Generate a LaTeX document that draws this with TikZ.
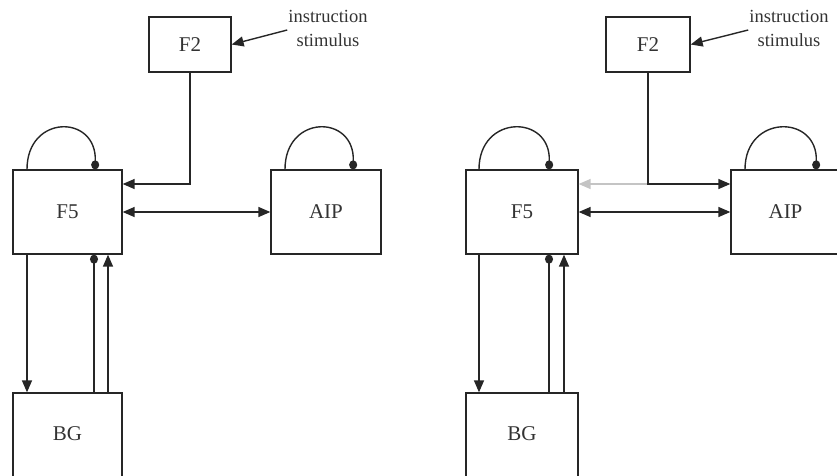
\documentclass[tikz,border=0pt]{standalone}
\usepackage{fontspec}
\setmainfont{Liberation Serif}
\usetikzlibrary{arrows.meta}
\definecolor{ink}{HTML}{262626}
\definecolor{txt}{HTML}{333333}
\definecolor{faint}{HTML}{C4C4C4}
\tikzset{
  area/.style={draw=ink, line width=1.3pt, inner sep=0pt, font=\fontsize{21}{24}\selectfont, text=txt},
  wire/.style={draw=ink, line width=1.4pt},
  tri/.tip={Triangle[length=12pt,width=10pt]},
  excite/.style={wire, -tri},
  both/.style={wire, tri-tri},
  inhib/.style={wire, -{Circle[length=9pt,width=8pt]}},
  weak/.style={draw=faint, line width=1.4pt, -tri},
  cue/.style={align=center, inner sep=1pt, text=txt, font=\fontsize{18.5}{24}\selectfont},
}
\begin{document}
\begin{tikzpicture}[x=1pt,y=-1pt]
\useasboundingbox (0,0) rectangle (837,475);
\clip (0,0) rectangle (837,475);

% ---------- left circuit ----------
\node[area, minimum width=82pt, minimum height=55pt] (F2) at (190,44.5) {F2};
\node[area, minimum width=109pt, minimum height=84pt] (F5) at (67.5,212) {F5};
\node[area, minimum width=110pt, minimum height=84pt] (AIP) at (326,212) {AIP};
\node[area, minimum width=109pt, minimum height=84pt, text depth=0pt] (BG) at (67.5,435) {\raisebox{2pt}{BG}};
\node[cue] (stim) at (328,28) {instruction\\stimulus};

\draw[excite] ([yshift=-2pt]stim.west) -- (F2.east);
\draw[excite] (F2.south) |- (F5.east |- 0,184);
\draw[both] (F5.east) -- (AIP.west);

% recurrent loops
\draw[inhib] (F5.north west -| 27,0) .. controls (27,114) and (97,114) .. (F5.north west -| 95,0);
\draw[inhib] (AIP.north west -| 285,0) .. controls (285,114) and (355,114) .. (AIP.north west -| 353,0);

% loop through the basal ganglia
\draw[excite] (F5.south -| 27,0) -- (BG.north -| 27,0);
\draw[inhib] (BG.north -| 94,0) -- (F5.south -| 94,0);
\draw[excite] (BG.north -| 108,0) -- (F5.south -| 108,0);

% ---------- right circuit ----------
\node[area, minimum width=84pt, minimum height=55pt] (F2r) at (648,44.5) {F2};
\node[area, minimum width=112pt, minimum height=84pt] (F5r) at (522,212) {F5};
\node[area, minimum width=109pt, minimum height=84pt] (AIPr) at (785.5,212) {AIP};
\node[area, minimum width=112pt, minimum height=84pt, text depth=0pt] (BGr) at (522,435) {\raisebox{2pt}{BG}};
\node[cue] (stimr) at (789,28) {instruction\\stimulus};

\draw[excite] ([yshift=-2pt]stimr.west) -- (F2r.east);
\coordinate (split) at (F2r.south |- 0,184);
\draw[weak] (split) -- (F5r.east |- split);
\draw[excite] (F2r.south) |- (AIPr.west |- split);
\draw[both] (F5r.east) -- (AIPr.west);

\draw[inhib] (F5r.north west -| 479,0) .. controls (479,114) and (551,114) .. (F5r.north west -| 549,0);
\draw[inhib] (AIPr.north west -| 745,0) .. controls (745,114) and (818,114) .. (AIPr.north west -| 816,0);

\draw[excite] (F5r.south -| 479,0) -- (BGr.north -| 479,0);
\draw[inhib] (BGr.north -| 549,0) -- (F5r.south -| 549,0);
\draw[excite] (BGr.north -| 564,0) -- (F5r.south -| 564,0);
\end{tikzpicture}
\end{document}
